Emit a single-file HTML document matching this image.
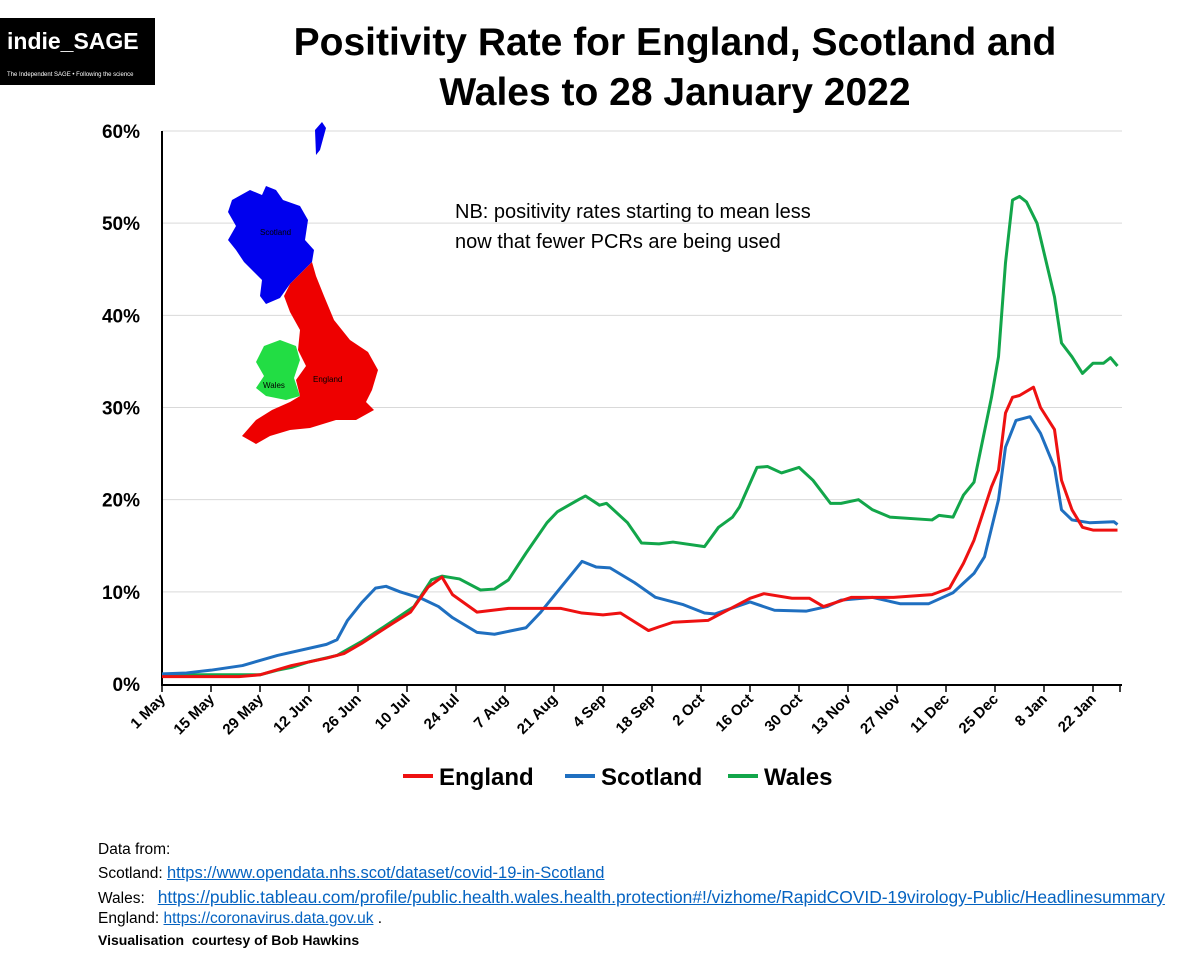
<!DOCTYPE html>
<html><head><meta charset="utf-8"><style>
body{margin:0;background:#fff;width:1200px;height:962px;overflow:hidden;font-family:"Liberation Sans",sans-serif;position:relative}
.ft{position:absolute;left:98px;font-size:15.5px;color:#000;font-family:"Liberation Sans",sans-serif;white-space:nowrap}
.ft a{color:#0563c1;text-decoration:underline}
</style></head><body>
<div style="position:absolute;left:0;top:18px;width:155px;height:67px;background:#000;color:#fff">
<div style="position:absolute;left:7px;top:10px;font-size:23px;font-weight:bold">indie_SAGE</div>
<div style="position:absolute;left:7px;top:54px;font-size:6px">The Independent SAGE • Following the science</div></div>
<div style="position:absolute;left:200px;width:950px;top:18px;text-align:center;font-size:39px;font-weight:bold;line-height:50px">Positivity Rate for England, Scotland and<br>Wales to 28 January 2022</div>
<svg id="chart" width="1200" height="962" style="position:absolute;left:0;top:0"></svg>
<div class="ft" style="top:841px">Data from:</div>
<div class="ft" style="top:864px">Scotland: <a style="font-size:16.5px">https://www.opendata.nhs.scot/dataset/covid-19-in-Scotland</a></div>
<div class="ft" style="top:887px">Wales: &nbsp;&nbsp;<a style="font-size:17.4px">https://public.tableau.com/profile/public.health.wales.health.protection#!/vizhome/RapidCOVID-19virology-Public/Headlinesummary</a></div>
<div class="ft" style="top:910px">England: <a>https://coronavirus.data.gov.uk</a> .</div>
<div class="ft" style="top:932px;font-weight:bold;font-size:14px">Visualisation &nbsp;courtesy of Bob Hawkins</div>
<script>
const tickLabels=["1 May","15 May","29 May","12 Jun","26 Jun","10 Jul","24 Jul","7 Aug","21 Aug","4 Sep","18 Sep","2 Oct","16 Oct","30 Oct","13 Nov","27 Nov","11 Dec","25 Dec","8 Jan","22 Jan"];
const yTicks=[0,10,20,30,40,50,60];
const engDays=[0,22,28,37,47,52,57,66,71,76,80,83,90,99,114,120,126,131,139,142,146,156,168,172,180,185,189,197,209,220,225,229,232,237,239,241,243,245,249,251,255,257,260,263,266,273];
const engVals=[0.8,0.8,1.0,2.0,2.8,3.3,4.4,6.6,7.8,10.5,11.6,9.7,7.8,8.2,8.2,7.7,7.5,7.7,5.8,6.2,6.7,6.9,9.3,9.8,9.3,9.3,8.4,9.4,9.4,9.7,10.4,13.1,15.6,21.4,23.2,29.4,31.1,31.3,32.2,30,27.6,22.1,18.9,17.0,16.7,16.7];
const scoDays=[0,7,14,23,33,47,50,53,57,61,64,68,74,79,83,90,95,104,108,114,120,124,128,135,141,149,155,158,168,175,184,190,194,203,211,219,226,232,235,239,241,244,248,251,255,257,260,265,272,273];
const scoVals=[1.1,1.2,1.5,2.0,3.1,4.3,4.8,6.9,8.8,10.4,10.6,10.0,9.3,8.4,7.2,5.6,5.4,6.1,7.7,10.5,13.3,12.7,12.6,11.0,9.4,8.6,7.7,7.6,8.9,8.0,7.9,8.4,9.1,9.4,8.7,8.7,9.9,12.0,13.8,20.0,25.7,28.6,29.0,27.2,23.5,18.9,17.8,17.5,17.6,17.3];
const walDays=[0,28,33,37,42,50,57,65,72,77,80,85,91,95,99,104,110,113,119,121,125,127,133,137,142,146,155,159,163,165,170,173,177,182,186,191,194,199,203,208,220,222,226,229,232,237,239,241,243,245,247,250,253,255,257,260,263,266,269,271,273];
const walVals=[1.0,1.0,1.5,1.8,2.4,3.1,4.6,6.6,8.4,11.3,11.7,11.4,10.2,10.3,11.3,14.2,17.5,18.7,20.0,20.4,19.4,19.6,17.5,15.3,15.2,15.4,14.9,17.0,18.1,19.2,23.5,23.6,22.9,23.5,22.1,19.6,19.6,20.0,18.9,18.1,17.8,18.3,18.1,20.5,21.9,31.1,35.5,45.7,52.5,52.9,52.3,50.0,45.2,42.0,37.0,35.5,33.7,34.8,34.8,35.4,34.5];
const NS="http://www.w3.org/2000/svg",svg=document.getElementById("chart");
const X=d=>162+d*3.5, Y=v=>684-v*9.217;
function mk(t,a,p){const e=document.createElementNS(NS,t);for(const k in a)e.setAttribute(k,a[k]);(p||svg).appendChild(e);return e;}
yTicks.forEach(v=>{
 if(v>0){const g=mk("line",{x1:162,x2:1122,y1:Y(v),y2:Y(v),stroke:"#d9d9d9","stroke-width":1});
 
 }
 const t=mk("text",{x:140,y:Y(v)+7,"text-anchor":"end","font-size":19,"font-weight":"bold","font-family":"Liberation Sans"});t.textContent=v+"%";
 
 
});
const mg=mk("g",{});


mk("polygon",{points:"232,200 250,190 262,195 266,186 276,190 283,200 300,206 308,220 305,240 314,250 312,262 300,274 290,284 280,298 266,304 260,296 262,280 252,270 244,262 236,250 228,240 236,226 228,212",fill:"#0000ee"},mg);
mk("polygon",{points:"315,130 322,122 326,128 320,150 316,155",fill:"#0000ee"},mg);
mk("polygon",{points:"290,284 300,274 312,262 316,276 324,296 334,320 350,340 368,352 378,370 372,390 366,402 374,410 356,420 336,420 310,428 290,430 270,436 256,444 242,436 256,420 272,410 290,402 300,396 296,380 306,366 298,350 300,330 290,312 284,296",fill:"#ee0000"},mg);
mk("polygon",{points:"264,346 280,340 296,346 300,360 294,378 300,396 286,400 266,396 256,388 264,376 256,362",fill:"#22dd44"},mg);
[["Scotland",260,235,"#000"],["England",313,382,"#000"],["Wales",263,388,"#000"]].forEach(a=>{const t=mk("text",{x:a[1],y:a[2],"font-size":8,fill:a[3],"font-family":"Liberation Sans"},mg);t.textContent=a[0];});
[["NB: positivity rates starting to mean less",218],["now that fewer PCRs are being used",248]].forEach(a=>{const t=mk("text",{x:455,y:a[1],"font-size":20,"font-family":"Liberation Sans"});t.textContent=a[0];
 
 });
const ya=mk("line",{x1:162,x2:162,y1:131,y2:685,stroke:"#000","stroke-width":2});


const xa=mk("line",{x1:161,x2:1122,y1:685,y2:685,stroke:"#000","stroke-width":2});


tickLabels.forEach((l,i)=>{const x=X(i*14);
 mk("line",{x1:x,x2:x,y1:685,y2:692,stroke:"#000","stroke-width":1.5});
 const t=mk("text",{x:x+4,y:700,"text-anchor":"end","font-size":15,"font-weight":"bold","font-family":"Liberation Sans",transform:`rotate(-45 ${x+4} 700)`});t.textContent=l;
 
 
});
mk("line",{x1:1120,x2:1120,y1:685,y2:692,stroke:"#000","stroke-width":1.5});
function series(d,v,c,n){const p=mk("polyline",{points:d.map((dd,i)=>X(dd)+","+Y(v[i])).join(" "),fill:"none",stroke:c,"stroke-width":3,"stroke-linejoin":"round"});
 
 }
series(walDays,walVals,"#12a64a","wales-line");
series(scoDays,scoVals,"#1f6fc0","scotland-line");
series(engDays,engVals,"#ee1111","england-line");
[["England","#ee1111",403],["Scotland","#1f6fc0",565],["Wales","#12a64a",728]].forEach(a=>{
 const g=mk("g",{});
 
 
 mk("line",{x1:a[2],x2:a[2]+30,y1:776,y2:776,stroke:a[1],"stroke-width":4},g);
 const t=mk("text",{x:a[2]+36,y:785,"font-size":24,"font-weight":"bold","font-family":"Liberation Sans"},g);t.textContent=a[0];
});
</script></body></html>
